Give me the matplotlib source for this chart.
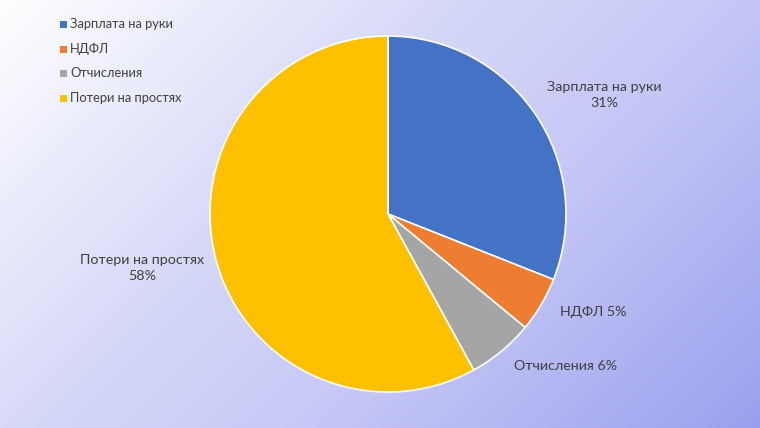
import numpy as np
import matplotlib
matplotlib.use("Agg")
import matplotlib.pyplot as plt
from matplotlib.colors import to_rgb

categories = ["Зарплата на руки", "НДФЛ", "Отчисления", "Потери на простях"]
values = [31, 5, 6, 58]
colors = ["#4472C4", "#ED7D31", "#A5A5A5", "#FFC000"]

plt.rcParams['font.family'] = ['Lato', 'DejaVu Sans']
W, H = 760, 428
fig = plt.figure(figsize=(W / 100, H / 100), dpi=100)

# background gradient
bg = fig.add_axes([0, 0, 1, 1])
bg.set_axis_off()
xx, yy = np.meshgrid(np.arange(W), np.arange(H))
t = (xx + yy) / (W + H)
stops = [0.0, 0.36, 0.64, 1.0]
cols = np.array([to_rgb(c) for c in ["#ffffff", "#d8daf8", "#c4c6f6", "#9aa0ee"]])
img = np.stack([np.interp(t, stops, cols[:, k]) for k in range(3)], axis=-1)
bg.imshow(img, aspect='auto', extent=[0, 1, 0, 1], origin='upper')
bg.set_xlim(0, 1); bg.set_ylim(0, 1)

# pie
cx, cy, r = 388, 214, 178
ax = fig.add_axes([(cx - r) / W, (H - cy - r) / H, 2 * r / W, 2 * r / H])
wedges, _ = ax.pie(values, colors=colors, startangle=90, counterclock=False,
                   wedgeprops=dict(edgecolor='white', linewidth=1.2), radius=1)
ax.set_xlim(-1, 1); ax.set_ylim(-1, 1)
ax.set_aspect('auto')

tc = '#404040'
fs = 10.3
label_pos = [(604, 95, 'center'), (593, 312, 'center'), (566, 366, 'center'), (142, 268, 'center')]
texts = [f"{categories[0]}\n{values[0]}%", f"{categories[1]} {values[1]}%",
         f"{categories[2]} {values[2]}%", f"{categories[3]}\n{values[3]}%"]
for (x, y, ha), s in zip(label_pos, texts):
    fig.text(x / W, 1 - y / H, s, ha=ha, va='center', color=tc, fontsize=fs,
             linespacing=1.4, multialignment='center')

# legend
leg_y = [24, 49, 73, 98]
for c, name, y in zip(colors, categories, leg_y):
    fig.patches.append(plt.Rectangle(((60) / W, 1 - (y + 3.5) / H), 7 / W, 7 / H,
                                     transform=fig.transFigure, facecolor=c, edgecolor='none'))
    fig.text(70 / W, 1 - y / H, name, ha='left', va='center', color=tc, fontsize=9.3)

fig.savefig("out.png", dpi=100)
